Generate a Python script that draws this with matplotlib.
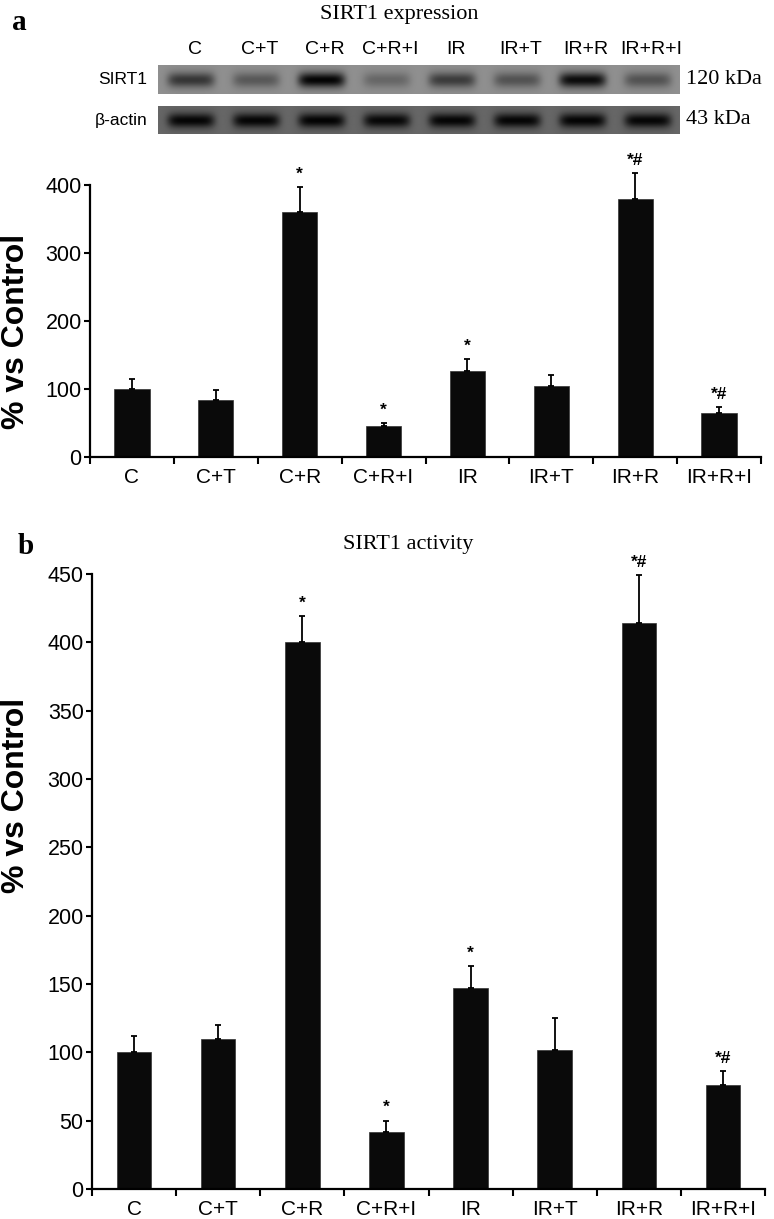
import numpy as np
import matplotlib
matplotlib.use("Agg")
import matplotlib.pyplot as plt

# ----------------------------------------------------------------------
# data
# ----------------------------------------------------------------------
groups = ["C", "C+T", "C+R", "C+R+I", "IR", "IR+T", "IR+R", "IR+R+I"]

# (a) SIRT1 expression, % vs control
expr_mean = [100, 84, 360, 45, 127, 104, 379, 64]
expr_err = [14, 14, 37, 5, 17, 17, 38, 9]
expr_sig = ["", "", "*", "*", "*", "", "*#", "*#"]

# (b) SIRT1 activity, % vs control
act_mean = [100, 110, 400, 42, 147, 102, 414, 76]
act_err = [12, 10, 19, 8, 16, 23, 35, 10]
act_sig = ["", "", "*", "*", "*", "", "*#", "*#"]

# relative band darkness on the blot (0 = nothing, 1 = black)
sirt1_band = [0.62, 0.38, 0.97, 0.28, 0.58, 0.42, 0.92, 0.42]
actin_band = [0.95, 0.95, 0.97, 0.93, 0.95, 0.95, 0.96, 0.94]

SANS = ["Liberation Sans", "DejaVu Sans"]
SERIF = ["Liberation Serif", "DejaVu Serif"]
BAR = "#0a0a0a"


def blot_image(levels, bg, width=522, height=29):
    """Grey strip with one soft dark band per lane."""
    n = len(levels)
    xs = np.arange(width)[None, :]
    ys = np.arange(height)[:, None]
    lane_w = width / n
    dark = np.zeros((height, width))
    for i, lv in enumerate(levels):
        cx = lane_w * (i + 0.5)
        prof_x = np.exp(-((xs - cx) / (lane_w * 0.36)) ** 6)
        prof_y = np.exp(-((ys - height / 2) / (height * 0.26)) ** 2)
        dark = np.maximum(dark, lv * prof_x * prof_y)
    return bg * (1 - dark)


def bar_panel(ax, means, errs, sigs, ymax, step, width):
    x = np.arange(len(groups))
    ax.bar(x, means, width=width, color=BAR, edgecolor="#333333", linewidth=0.5, zorder=2)
    eb = ax.errorbar(x, means, yerr=[np.zeros(len(errs)), errs], fmt="none",
                     ecolor="black", elinewidth=1.3, capsize=2.5, capthick=1.3, zorder=3)
    for art in eb.lines[1] + eb.lines[2]:
        art.set_clip_on(False)
    for xi, m, e, s in zip(x, means, errs, sigs):
        if s:
            ax.annotate(s, (xi, m + e), xytext=(0, 4), textcoords="offset points",
                        ha="center", va="bottom", fontsize=12.5, fontweight="bold",
                        family=SANS, annotation_clip=False)
    ax.set_xlim(-0.5, len(groups) - 0.5)
    ax.set_ylim(0, ymax)
    ax.set_yticks(np.arange(0, ymax + 1, step))
    ax.set_xticks(x)
    ax.set_xticklabels(groups, family=SANS, fontsize=15)
    ax.set_xticks(np.arange(-0.5, len(groups)), minor=True)
    for lab in ax.get_yticklabels():
        lab.set_family(SANS)
        lab.set_fontsize(15.5)
    for side in ("top", "right"):
        ax.spines[side].set_visible(False)
    for side in ("left", "bottom"):
        ax.spines[side].set_linewidth(1.6)
    ax.tick_params(axis="x", which="major", length=0, pad=8)
    ax.tick_params(axis="x", which="minor", length=5, width=1.5, direction="out")
    ax.tick_params(axis="y", length=4, width=1.5, direction="out", pad=2)


fig = plt.figure(figsize=(7.74, 12.19), dpi=100)
W, H = 774.0, 1219.0


def box(x0, y0, x1, y1):
    # pixel box (top-left origin) -> figure fraction rect
    return [x0 / W, 1 - y1 / H, (x1 - x0) / W, (y1 - y0) / H]


# ---- panel a: blot ----
fig.text(12 / W, 1 - 22 / H, "a", family=SERIF, fontsize=21, fontweight="bold",
         ha="left", va="center")
fig.text(399 / W, 1 - 14 / H, "SIRT1 expression", family=SERIF, fontsize=16,
         ha="center", va="center")

blot_x0, blot_x1 = 158, 680
lane_w = (blot_x1 - blot_x0) / len(groups)
for i, g in enumerate(groups):
    fig.text((blot_x0 + lane_w * (i + 0.5) + 4) / W, 1 - 50 / H, g, family=SANS,
             fontsize=14, ha="center", va="center")

ax_s = fig.add_axes(box(blot_x0, 65, blot_x1, 94))
ax_s.imshow(blot_image(sirt1_band, 0.56), cmap="gray", vmin=0, vmax=1,
            aspect="auto", interpolation="bilinear")
ax_s.axis("off")
ax_b = fig.add_axes(box(blot_x0, 106, blot_x1, 134))
ax_b.imshow(blot_image(actin_band, 0.40), cmap="gray", vmin=0, vmax=1,
            aspect="auto", interpolation="bilinear")
ax_b.axis("off")

fig.text(147 / W, 1 - 79 / H, "SIRT1", family=SANS, fontsize=12.5, ha="right", va="center")
fig.text(147 / W, 1 - 120 / H, "\u03b2-actin", family=SANS, fontsize=12.5, ha="right", va="center")
fig.text(686 / W, 1 - 79 / H, "120 kDa", family=SERIF, fontsize=16, ha="left", va="center")
fig.text(686 / W, 1 - 120 / H, "43 kDa", family=SERIF, fontsize=16, ha="left", va="center")

# ---- panel a: bars ----
ax1 = fig.add_axes(box(90, 185, 761, 457))
bar_panel(ax1, expr_mean, expr_err, expr_sig, 400, 100, 0.42)
fig.text(16 / W, 1 - 331 / H, "% vs Control", family=SANS, fontsize=23,
         fontweight="bold", rotation=90, ha="center", va="center")

# ---- panel b ----
fig.text(18 / W, 1 - 547 / H, "b", family=SERIF, fontsize=21, fontweight="bold",
         ha="left", va="center")
fig.text(408 / W, 1 - 545 / H, "SIRT1 activity", family=SERIF, fontsize=16,
         ha="center", va="center")
ax2 = fig.add_axes(box(92, 574, 765, 1189))
bar_panel(ax2, act_mean, act_err, act_sig, 450, 50, 0.41)
fig.text(16 / W, 1 - 795 / H, "% vs Control", family=SANS, fontsize=23,
         fontweight="bold", rotation=90, ha="center", va="center")

fig.savefig("out.png", dpi=100)
